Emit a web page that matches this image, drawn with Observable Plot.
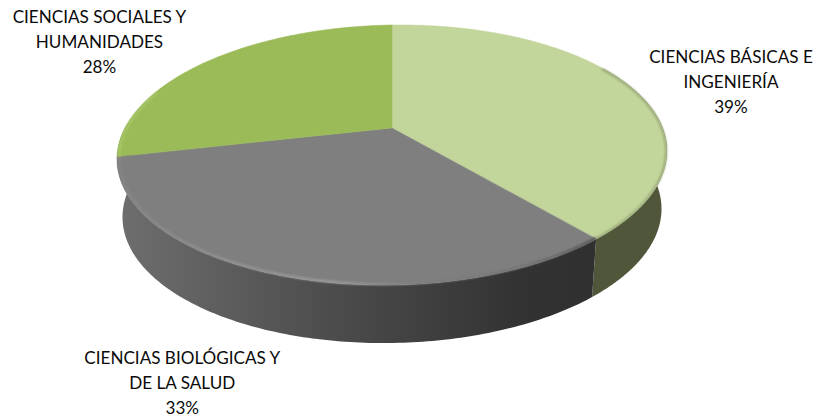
<!DOCTYPE html>
<html>
<head>
<meta charset="utf-8">
<script src="https://cdn.jsdelivr.net/npm/d3@7"></script>
<script src="https://cdn.jsdelivr.net/npm/@observablehq/plot@0.6"></script>
<style>html,body{margin:0;padding:0;background:#fff}svg{display:block}</style>
</head>
<body>
<div id="chart"></div>
<script>
const categories = ["CIENCIAS BÁSICAS E\nINGENIERÍA", "CIENCIAS BIOLÓGICAS Y\nDE LA SALUD", "CIENCIAS SOCIALES Y\nHUMANIDADES"];
const values = [39, 33, 28];
const topColors = ["#c2d59b", "#7f7f7f", "#9bbb59"];
const labelShift = [[102, -6], [-97, 105], [-110, -21]];

// Perspective view of the pie: the circle's centre sits above the middle of its ellipse.
const view = {cx: 392, cy: 128, a: 269, b: 124.4, k: 0.2077, roll: 0.015, depth: 58, shrink: 0.98};
const rad = d => d * Math.PI / 180;
function project(deg, r = 1) {
  const u = r * Math.sin(rad(deg)), v = -r * Math.cos(rad(deg)), w = 1 - view.k * v;
  const dx = view.a * u / w;
  return [view.cx + dx, view.cy + view.b * v / w - view.roll * dx];
}
function bottom(deg) {
  const [x, y] = project(deg);
  return [view.cx + (x - view.cx) * view.shrink, y + view.depth];
}
const total = d3.sum(values);
let acc = 0;
const slices = values.map((v, i) => {
  const start = acc / total * 360; acc += v;
  return {i, start, end: acc / total * 360, value: v, name: categories[i], color: topColors[i]};
});
const sweep = (a, b, n = 160) => d3.range(n + 1).map(j => a + (b - a) * j / n);

const wedge = s => sweep(s.start, s.end).map(d => {
  const [x, y] = project(d);
  return {x, y, x0: view.cx, y0: view.cy};
});
const wall = (a, b) => sweep(a, b).map(d => {
  const [x, y] = project(d), [x2, y2] = bottom(d);
  return {x, y, x2, y2};
});
const rim = (a, b, r) => sweep(a, b).map(d => {
  const [x, y] = project(d, r);
  return {x, y};
});

const labels = slices.map((s, i) => {
  const [x, y] = project((s.start + s.end) / 2);
  return {x: x + labelShift[i][0], y: y + labelShift[i][1], text: `${s.name}\n${s.value}%`};
});

const defs = () => {
  const d = d3.create("svg:defs");
  const grad = (id, stops) => {
    const g = d.append("linearGradient").attr("id", id).attr("x1", 0).attr("x2", 1).attr("y1", 0).attr("y2", 0);
    stops.forEach(([o, c]) => g.append("stop").attr("offset", o).attr("stop-color", c));
  };
  grad("wallGray", [[0, "#6e6e6e"], [0.45, "#4c4c4c"], [0.85, "#323232"], [1, "#303030"]]);
  grad("rimGray", [[0, "#878787"], [0.2, "#939393"], [0.45, "#a3a3a3"], [0.62, "#808080"], [0.85, "#707070"], [1, "#4a4a4a"]]);
  return d.node();
};

const wedgeMark = s => Plot.area(wedge(s), {x1: "x0", y1: "y0", x2: "x", y2: "y", fill: s.color, stroke: s.color, strokeWidth: 0.5, curve: "linear"});
const wallMark = (a, b, fill) => Plot.area(wall(a, b), {x1: "x", y1: "y", x2: "x2", y2: "y2", fill, curve: "linear"});

const plot = Plot.plot({
  width: 817,
  height: 419,
  margin: 0,
  style: {background: "#fff", fontFamily: "Lato, sans-serif"},
  x: {domain: [0, 817], range: [0, 817], axis: null},
  y: {domain: [0, 419], range: [0, 419], axis: null},
  marks: [
    defs,
    wallMark(60, slices[0].end, "#4f5639"),
    wallMark(slices[1].start, slices[2].start + 15, "url(#wallGray)"),
    ...slices.map(wedgeMark),
    Plot.line(rim(60, slices[0].end, 0.995), {x: "x", y: "y", stroke: "#6a7350", strokeWidth: 2, strokeOpacity: 0.5, imageFilter: "blur(1px)"}),
    Plot.line(rim(slices[1].start, slices[1].end, 0.993), {x: "x", y: "y", stroke: "url(#rimGray)", strokeWidth: 2, imageFilter: "blur(0.8px)"}),
    Plot.line(rim(slices[2].start, 290, 0.995), {x: "x", y: "y", stroke: "#aecb70", strokeWidth: 1.6, imageFilter: "blur(0.8px)"}),
    Plot.text(labels, {x: "x", y: "y", text: "text", fill: "#0a0a0a", fontSize: 17.1, lineHeight: 1.46, textAnchor: "middle"})
  ]
});
document.getElementById("chart").append(plot);
</script>
</body>
</html>
